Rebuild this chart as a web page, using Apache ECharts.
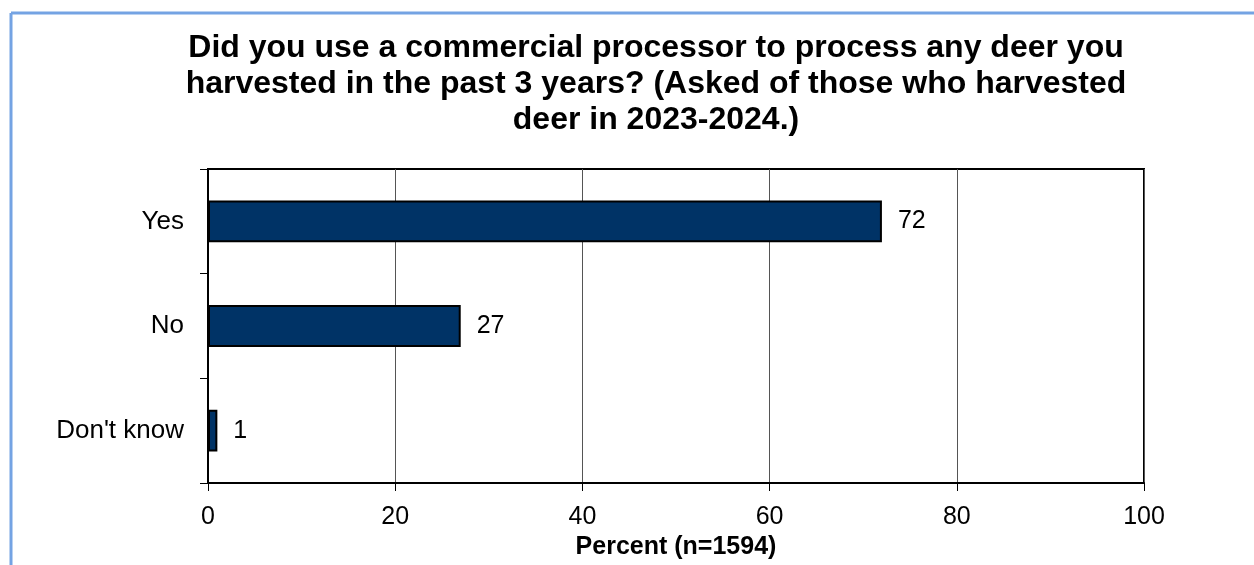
<!DOCTYPE html>
<html>
<head>
<meta charset="utf-8">
<title>Commercial processor use</title>
<script src="https://cdn.jsdelivr.net/npm/echarts@6/dist/echarts.min.js"></script>
<style>
  html, body { margin: 0; padding: 0; background: #ffffff; }
  #chart { width: 1254px; height: 565px; }
</style>
</head>
<body>
<div id="chart"></div>
<script>
// Survey responses and percentages
const categories = ["Yes", "No", "Don't know"];
const percents = [72, 27, 1];
const xTicks = [0, 20, 40, 60, 80, 100];
const titleText = "Did you use a commercial processor to process any deer you\nharvested in the past 3 years? (Asked of those who harvested\ndeer in 2023-2024.)";
const axisTitle = "Percent (n=1594)";

const FONT = "'Liberation Sans', Arial, sans-serif";

const chart = echarts.init(document.getElementById('chart'), null, { renderer: 'canvas' });

chart.setOption({
  animation: false,
  backgroundColor: '#ffffff',
  title: {
    text: titleText,
    left: 651,
    top: 25,
    textAlign: 'center',
    textStyle: {
      fontFamily: FONT,
      fontWeight: 'bold',
      fontSize: 32,
      lineHeight: 36,
      color: '#000000',
      align: 'center'
    }
  },
  graphic: [
    // frame lines on the left and top edges of the page
    { type: 'line', shape: { x1: 11, y1: 13, x2: 1254, y2: 13 }, style: { stroke: '#74a3e3', lineWidth: 3 }, z: 10 },
    { type: 'line', shape: { x1: 11, y1: 13, x2: 11, y2: 565 }, style: { stroke: '#74a3e3', lineWidth: 3 }, z: 10 }
  ],
  grid: {
    left: 208,
    right: 110,
    top: 169,
    bottom: 82,
    show: true,
    borderColor: '#000000',
    borderWidth: 2,
    containLabel: false,
    outerBoundsMode: 'none'
  },
  xAxis: {
    type: 'value',
    min: xTicks[0],
    max: xTicks[xTicks.length - 1],
    interval: xTicks[1] - xTicks[0],
    name: axisTitle,
    nameLocation: 'middle',
    nameGap: 50,
    nameTextStyle: { fontFamily: FONT, fontWeight: 'bold', fontSize: 25, color: '#000000' },
    axisLine: { show: true, lineStyle: { color: '#000000', width: 2 } },
    axisTick: { show: true, inside: false, length: 8, lineStyle: { color: '#000000', width: 1 } },
    axisLabel: { fontFamily: FONT, fontSize: 25, color: '#000000', margin: 22 },
    splitLine: { show: true, lineStyle: { color: '#555555', width: 1 } }
  },
  yAxis: {
    type: 'category',
    data: categories,
    inverse: true,
    axisLine: { show: true, lineStyle: { color: '#000000', width: 2 } },
    axisTick: { show: true, inside: false, length: 8, alignWithLabel: false, lineStyle: { color: '#000000', width: 1 } },
    axisLabel: { fontFamily: FONT, fontSize: 26, color: '#000000', margin: 24 },
    splitLine: { show: false }
  },
  series: [{
    type: 'bar',
    data: percents,
    barWidth: '40%',
    itemStyle: { color: '#003366', borderColor: '#000000', borderWidth: 2 },
    label: {
      show: true,
      position: 'right',
      distance: 16,
      fontFamily: FONT,
      fontSize: 25,
      color: '#000000'
    }
  }]
});
</script>
</body>
</html>
